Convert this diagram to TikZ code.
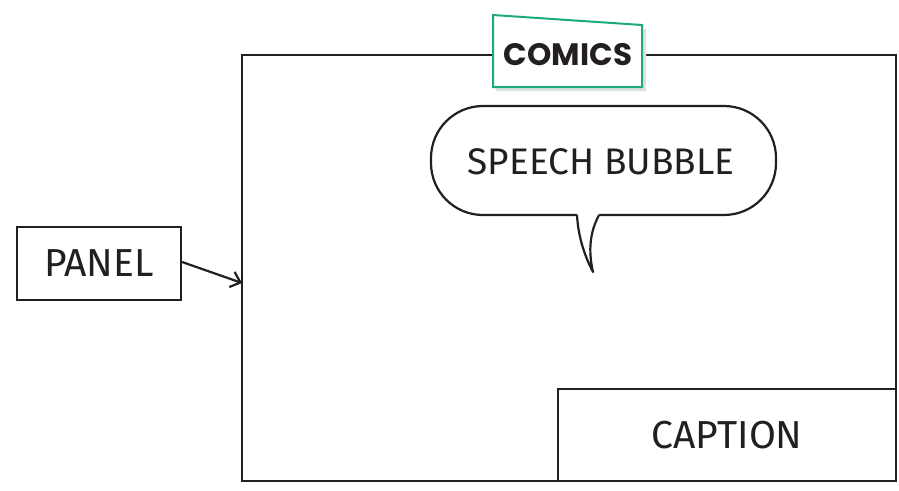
\documentclass[tikz,border=0pt]{standalone}
\usepackage{fontspec}
\setmainfont{Fira Sans}
\newfontfamily\tagfont{Poppins}
\usetikzlibrary{arrows.meta}
\definecolor{ink}{HTML}{231F20}
\definecolor{taggreen}{HTML}{1BAA7C}
\tikzset{
  outline/.style={draw=ink, line width=2.2pt},
  labelbox/.style={outline, fill=white, inner sep=0pt, text=ink,
    font=\fontsize{39}{41}\selectfont},
}
\begin{document}
\begin{tikzpicture}[x=1pt, y=-1pt]
        \useasboundingbox (0,0) rectangle (899,490);
        % panel frame
        \draw[outline] (242,55) rectangle (896,481);
        \coordinate (frameleft) at (242,283);
        % tag on top of the frame
        \fill[black!12] (496,19) -- (646,29) -- (646,91) -- (496,91) -- cycle;
        \draw[draw=taggreen, fill=white, line width=2pt]
            (493,15) -- (642,25) -- (642,87) -- (493,87) -- cycle;
        \node[text=ink, font=\tagfont\bfseries\fontsize{31}{33}\selectfont] (comics) at (568,55) {COMICS};
        % speech bubble
        \draw[outline, fill=white, rounded corners=52]
            (577,215) -- (431,215) -- (431,106) -- (776,106) -- (776,215) -- (599,215);
        \draw[outline, line join=round]
            (599,215) .. controls (590,232) and (588,250) .. (593,272)
            .. controls (584,255) and (578,235) .. (577,215);
        \node[text=ink, font=\fontsize{37}{39}\selectfont] (speech) at (601,162) {SPEECH BUBBLE};
        % labels
        \node[labelbox, minimum width=164pt, minimum height=73pt] (panel) at (99,263.5) {PANEL};
        \node[labelbox, minimum width=338pt, minimum height=92pt] (caption) at (727,435) {CAPTION};
        \draw[outline, -{Straight Barb[length=9pt, width=16pt]}] (panel.east |- 0,262) -- (frameleft);
    \end{tikzpicture}
\end{document}
